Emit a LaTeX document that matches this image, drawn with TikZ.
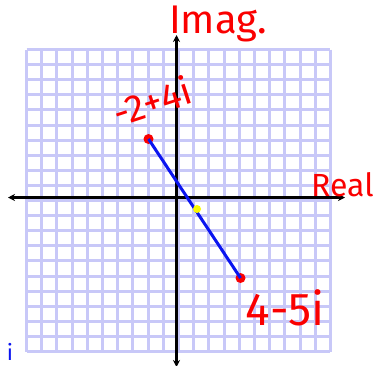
\documentclass[tikz,border=0pt]{standalone}
\usepackage{fontspec}
\setmainfont{Fira Sans}
\usetikzlibrary{arrows.meta}
\definecolor{gridc}{RGB}{200,200,248}
\definecolor{hred}{RGB}{250,0,0}
\definecolor{hblue}{RGB}{10,20,240}
\definecolor{hyel}{RGB}{250,250,0}
\tikzset{
  gridline/.style={gridc, line width=3pt},
  axis/.style={black, line width=3pt, {Stealth[length=7pt,width=7pt]}-{Stealth[length=7pt,width=7pt]}},
  reddot/.style={circle, fill=hred, inner sep=0pt, minimum size=10pt},
  yeldot/.style={circle, fill=hyel, inner sep=0pt, minimum size=8pt},
  segment/.style={hblue, line width=3pt},
  hand/.style={text=hred, inner sep=0pt, font=\fontsize{#1}{#1}\selectfont},
}
\begin{document}
\begin{tikzpicture}[x=1pt,y=-1pt]
\useasboundingbox (0,0) rectangle (374,365);
\fill[white] (0,0) rectangle (374,365);
% grid
\foreach \k in {0,...,20}{
  \draw[gridline] ({26.5+15.2*\k},49.5) -- ({26.5+15.2*\k},351.5);
  \draw[gridline] (26.5,{49.5+15.1*\k}) -- (330,{49.5+15.1*\k});
}
% axes
\coordinate (xl) at (8,197.5);
\coordinate (xr) at (345,197.5);
\coordinate (yt) at (176.5,35);
\coordinate (yb) at (176.5,367);
\draw[axis] (xl) -- (xr);
\draw[axis] (yb) -- (yt);
% segment
\node[reddot] (p) at (148.5,139) {};
\node[reddot] (q) at (240.5,278) {};
\draw[segment] (p.center) -- (q.center);
\node[yeldot] (m) at (197,209) {};
% labels
\node[hand=40pt] (imag) at (218,24) {Imag.};
\node[hand=32pt, anchor=west] (real) at (311,185) {Real};
\node[hand=38pt, rotate=18] (zp) at (152,101) {-2+4i};
\node[hand=46pt] (zq) at (285,308) {4-5i};
\node[text=hblue, inner sep=0pt, font=\fontsize{22pt}{22pt}\selectfont] (bi) at (10,352) {i};
\end{tikzpicture}
\end{document}
